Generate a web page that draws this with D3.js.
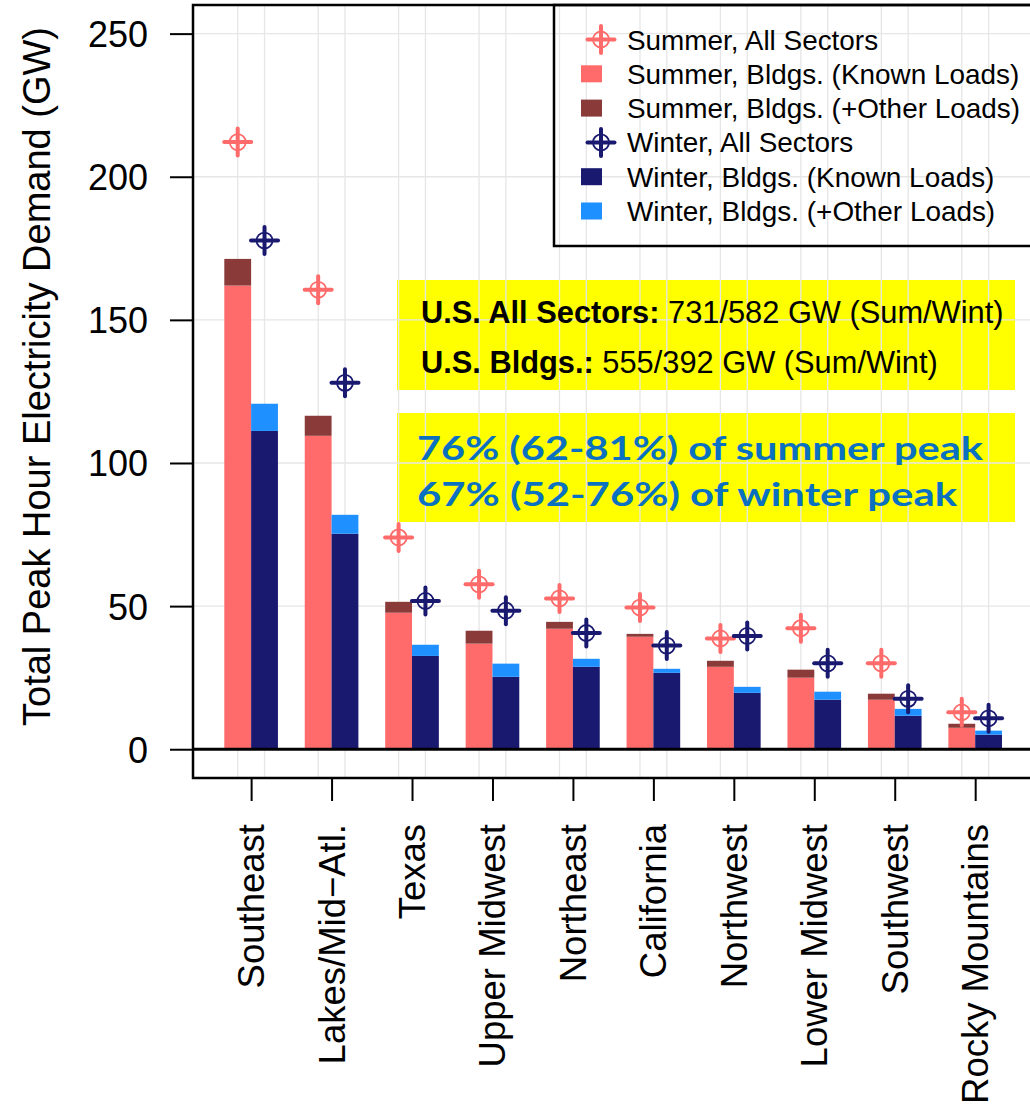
<!DOCTYPE html>
<html>
<head>
<meta charset="utf-8">
<script src="https://cdn.jsdelivr.net/npm/d3@7"></script>
<style>
  html, body { margin: 0; padding: 0; background: #ffffff; }
  svg { display: block; }
  text { font-family: "Liberation Sans", Arial, Helvetica, sans-serif; }
</style>
</head>
<body>
<svg id="chart" width="1030" height="1109"></svg>
<script>
// ---------------- data ----------------
const categories = ["Southeast", "Lakes/Mid\u2212Atl.", "Texas", "Upper Midwest", "Northeast",
                    "California", "Northwest", "Lower Midwest", "Southwest", "Rocky Mountains"];
// Summer
const summerAllSectors = [212.1, 160.5, 74.0, 57.6, 52.7, 49.5, 38.7, 42.3, 30.0, 12.9];
const summerBldgsKnown = [162.0, 109.5, 47.7, 36.9, 42.1, 39.3, 28.8, 25.0, 17.3, 7.5];
const summerBldgsTotal = [171.3, 116.5, 51.5, 41.4, 44.5, 40.3, 30.9, 27.8, 19.4, 8.9];
// Winter
const winterAllSectors = [177.7, 128.0, 51.8, 48.4, 40.6, 36.2, 39.6, 30.0, 17.6, 10.8];
const winterBldgsKnown = [111.2, 75.3, 32.6, 25.3, 28.8, 26.7, 19.7, 17.3, 11.7, 5.1];
const winterBldgsTotal = [120.7, 81.9, 36.5, 29.9, 31.6, 28.1, 21.8, 20.1, 14.1, 6.5];

const yTicks = [0, 50, 100, 150, 200, 250];
const legendLabels = ["Summer, All Sectors", "Summer, Bldgs. (Known Loads)", "Summer, Bldgs. (+Other Loads)",
                      "Winter, All Sectors", "Winter, Bldgs. (Known Loads)", "Winter, Bldgs. (+Other Loads)"];
const legendKinds = ["marker", "box", "box", "marker", "box", "box"];
const legendColors = ["#FF6A6A", "#FF6A6A", "#8B3A3A", "#191970", "#191970", "#1E90FF"];
const boxLines = [
  {bold: "U.S. All Sectors:", normal: " 731/582 GW (Sum/Wint)"},
  {bold: "U.S. Bldgs.:", normal: " 555/392 GW (Sum/Wint)"}
];
const shareLines = ["76% (62-81%) of summer peak", "67% (52-76%) of winter peak"];

// ---------------- colours ----------------
const C = {
  sumKnown: "#FF6A6A", sumOther: "#8B3A3A",
  winKnown: "#191970", winOther: "#1E90FF",
  grid: "#e6e6e6", yellow: "#FFFF00", blue: "#0A70C0"
};

// ---------------- layout ----------------
const svg = d3.select("#chart");
const plot = {left: 193, right: 1045, top: 5, bottom: 778};

const x = d3.scaleBand().domain(categories).range([224.3, 1002]).paddingInner(1/3).paddingOuter(0);
const season = d3.scaleBand().domain(["summer", "winter"]).range([0, x.bandwidth()]);
const y = d3.scaleLinear().domain([-10.05, 260]).range([plot.bottom, plot.top]);

svg.append("rect").attr("width", 1030).attr("height", 1109).attr("fill", "#fff");

svg.append("clipPath").attr("id", "clip")
  .append("rect").attr("x", plot.left).attr("y", plot.top)
  .attr("width", plot.right - plot.left).attr("height", plot.bottom - plot.top);

const g = svg.append("g").attr("clip-path", "url(#clip)");

// yellow annotation boxes (under the grid)
g.append("rect").attr("x", 397).attr("y", 280).attr("width", 618).attr("height", 110).attr("fill", C.yellow);
g.append("rect").attr("x", 397).attr("y", 413).attr("width", 618).attr("height", 109).attr("fill", C.yellow);

// grid
const centers = [];
categories.forEach(c => { centers.push(x(c) + season("summer") + season.bandwidth() / 2);
                          centers.push(x(c) + season("winter") + season.bandwidth() / 2); });
g.selectAll(".vgrid").data(centers).join("line")
  .attr("x1", d => d).attr("x2", d => d).attr("y1", plot.top).attr("y2", plot.bottom)
  .attr("stroke", C.grid).attr("stroke-width", 1.3);
g.selectAll(".hgrid").data(yTicks).join("line")
  .attr("x1", plot.left).attr("x2", plot.right).attr("y1", d => y(d)).attr("y2", d => y(d))
  .attr("stroke", C.grid).attr("stroke-width", 1.3);

// bars
const barData = [];
categories.forEach((c, i) => {
  barData.push({c, s: "summer", lo: 0, hi: summerBldgsKnown[i], fill: C.sumKnown});
  barData.push({c, s: "summer", lo: summerBldgsKnown[i], hi: summerBldgsTotal[i], fill: C.sumOther});
  barData.push({c, s: "winter", lo: 0, hi: winterBldgsKnown[i], fill: C.winKnown});
  barData.push({c, s: "winter", lo: winterBldgsKnown[i], hi: winterBldgsTotal[i], fill: C.winOther});
});
g.selectAll(".bar").data(barData).join("rect")
  .attr("x", d => x(d.c) + season(d.s))
  .attr("width", season.bandwidth())
  .attr("y", d => y(d.hi))
  .attr("height", d => y(d.lo) - y(d.hi))
  .attr("fill", d => d.fill);

// zero line
svg.append("line").attr("x1", plot.left).attr("x2", plot.right)
  .attr("y1", y(0)).attr("y2", y(0)).attr("stroke", "#000").attr("stroke-width", 3);

// markers
function marker(sel, cx, cy, color) {
  const m = sel.append("g").attr("transform", `translate(${cx},${cy})`);
  m.append("circle").attr("r", 8).attr("fill", "none").attr("stroke", color).attr("stroke-width", 1.8);
  m.append("line").attr("x1", -13.5).attr("x2", 13.5).attr("y1", 0).attr("y2", 0)
    .attr("stroke", color).attr("stroke-width", 4).attr("stroke-linecap", "round");
  m.append("line").attr("y1", -13.5).attr("y2", 13.5).attr("x1", 0).attr("x2", 0)
    .attr("stroke", color).attr("stroke-width", 4).attr("stroke-linecap", "round");
}
categories.forEach((c, i) => {
  marker(g, x(c) + season("summer") + season.bandwidth() / 2, y(summerAllSectors[i]), C.sumKnown);
  marker(g, x(c) + season("winter") + season.bandwidth() / 2, y(winterAllSectors[i]), C.winKnown);
});

// annotation text
boxLines.forEach((l, i) => {
  const t = svg.append("text").attr("x", 421).attr("y", 323.3 + i * 50)
    .attr("font-size", 30.8).attr("fill", "#000");
  t.append("tspan").attr("font-weight", "bold").text(l.bold);
  t.append("tspan").text(l.normal);
});
const shareWidths = [566, 540];
shareLines.forEach((l, i) => {
  svg.append("text").attr("x", 417).attr("y", 460 + i * 46)
    .attr("font-size", 32).attr("font-weight", 700).attr("fill", C.blue)
    .style("font-family", "Lato, 'Noto Sans', sans-serif")
    .attr("textLength", shareWidths[i]).attr("lengthAdjust", "spacingAndGlyphs")
    .text(l);
});

// legend
svg.append("rect").attr("x", 554).attr("y", 5).attr("width", 520).attr("height", 241)
  .attr("fill", "none").attr("stroke", "#000").attr("stroke-width", 2.5);
const legY = d3.scalePoint().domain(d3.range(legendLabels.length)).range([39.5, 211]);
legendLabels.forEach((lab, i) => {
  const cy = legY(i);
  if (legendKinds[i] === "marker") {
    marker(svg, 601, cy, legendColors[i]);
  } else {
    svg.append("rect").attr("x", 581).attr("y", cy - 8.5).attr("width", 21).attr("height", 17)
      .attr("fill", legendColors[i]);
  }
  svg.append("text").attr("x", 627).attr("y", cy + 10).attr("font-size", 27.9).attr("fill", "#000").text(lab);
});

// frame (left, top, bottom)
svg.append("path")
  .attr("d", `M${plot.right},${plot.top}H${plot.left}V${plot.bottom}H${plot.right}`)
  .attr("fill", "none").attr("stroke", "#000").attr("stroke-width", 2.5);

// y axis
const yAxis = svg.append("g").attr("transform", `translate(${plot.left},0)`)
  .call(d3.axisLeft(y).tickValues(yTicks).tickSize(23).tickPadding(22).tickFormat(d3.format("d")));
yAxis.select(".domain").remove();
yAxis.selectAll(".tick line").attr("stroke", "#000").attr("stroke-width", 2);
yAxis.selectAll(".tick text").attr("font-size", 36).attr("fill", "#000")
  .attr("font-family", "'Liberation Sans', Arial, sans-serif").attr("dy", "0.36em");

// x axis
const tickX = categories.map(c => x(c) + x.bandwidth() / 2);
const xAxis = svg.append("g").attr("transform", `translate(0,${plot.bottom})`)
  .call(d3.axisBottom(d3.scalePoint().domain(categories).range([tickX[0], tickX[tickX.length - 1]]))
    .tickSize(23).tickPadding(0));
xAxis.select(".domain").remove();
xAxis.selectAll(".tick line").attr("stroke", "#000").attr("stroke-width", 2);
xAxis.selectAll(".tick text")
  .attr("font-size", 36.5).attr("fill", "#000")
  .attr("font-family", "'Liberation Sans', Arial, sans-serif")
  .attr("text-anchor", "end")
  .attr("transform", "translate(12.5,46) rotate(-90)")
  .attr("x", 0).attr("y", 0).attr("dy", 0);

// y label
svg.append("text")
  .attr("transform", "translate(50,376.5) rotate(-90)")
  .attr("text-anchor", "middle").attr("font-size", 38).attr("fill", "#000")
  .text("Total Peak Hour Electricity Demand (GW)");
</script>
</body>
</html>
